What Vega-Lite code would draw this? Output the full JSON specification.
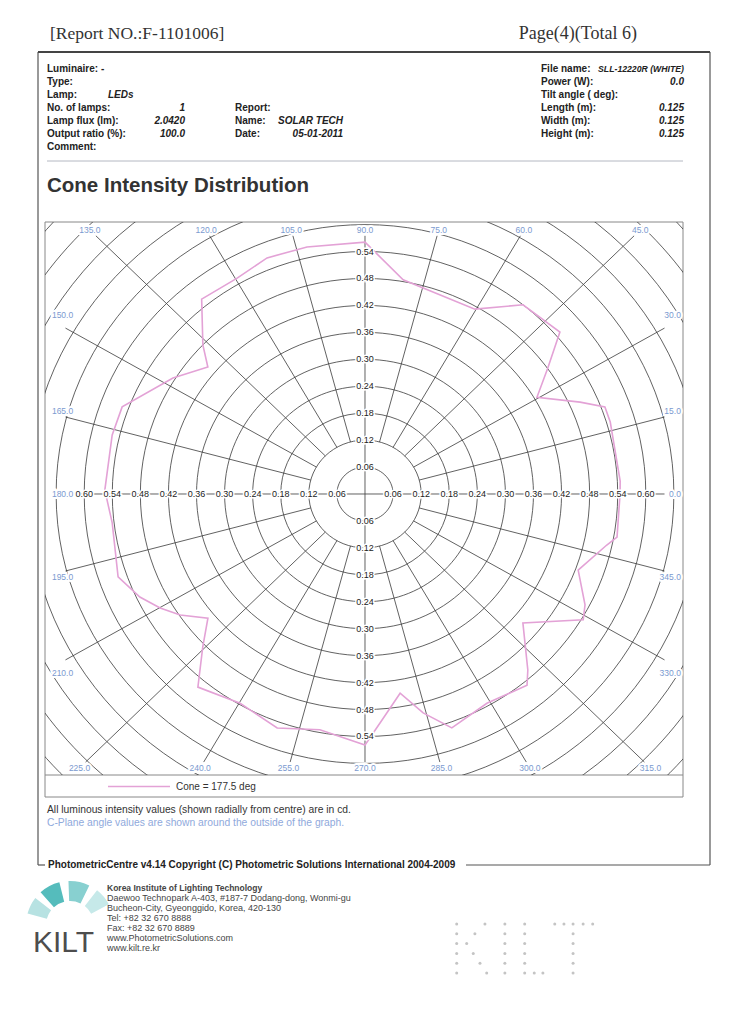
{
"width": 638, "height": 553,
"autosize": {"type": "none"},
"padding": {"left": 45, "top": 222, "right": 69, "bottom": 255},
"background": "white",
"config": {"view": {"stroke": null}, "text": {"font": "Liberation Sans"}},
"resolve": {"scale": {"x": "independent", "y": "independent"}},
"datasets": {
"rings": [{"r":0.06},{"r":0.12},{"r":0.18},{"r":0.24},{"r":0.3},{"r":0.36},{"r":0.42},{"r":0.48},{"r":0.54},{"r":0.6},{"r":0.66},{"r":0.72},{"r":0.78},{"r":0.84},{"r":0.9}],
"spokes": [{"a":0},{"a":15},{"a":30},{"a":45},{"a":60},{"a":75},{"a":90},{"a":105},{"a":120},{"a":135},{"a":150},{"a":165},{"a":180},{"a":195},{"a":210},{"a":225},{"a":240},{"a":255},{"a":270},{"a":285},{"a":300},{"a":315},{"a":330},{"a":345}],
"cone": [{"c":0,"cd":0.545},{"c":3,"cd":0.546},{"c":17,"cd":0.548},{"c":20.7,"cd":0.548},{"c":24,"cd":0.503},{"c":30.4,"cd":0.426},{"c":35.7,"cd":0.481},{"c":40.9,"cd":0.551},{"c":51.3,"cd":0.54},{"c":60.3,"cd":0.474},{"c":80.3,"cd":0.484},{"c":90,"cd":0.561},{"c":102.7,"cd":0.564},{"c":111.7,"cd":0.566},{"c":119.6,"cd":0.553},{"c":128.8,"cd":0.557},{"c":136.2,"cd":0.48},{"c":139.9,"cd":0.439},{"c":147.8,"cd":0.485},{"c":159.5,"cd":0.554},{"c":166.3,"cd":0.556},{"c":179.1,"cd":0.556},{"c":186.8,"cd":0.544},{"c":199.3,"cd":0.559},{"c":205.5,"cd":0.533},{"c":210.1,"cd":0.506},{"c":214.3,"cd":0.478},{"c":219.5,"cd":0.435},{"c":224.5,"cd":0.486},{"c":230.3,"cd":0.559},{"c":240.2,"cd":0.537},{"c":250.2,"cd":0.554},{"c":259.6,"cd":0.534},{"c":270,"cd":0.559},{"c":273.6,"cd":0.511},{"c":279.6,"cd":0.45},{"c":284.3,"cd":0.503},{"c":289.6,"cd":0.553},{"c":299.2,"cd":0.534},{"c":309.1,"cd":0.549},{"c":311.6,"cd":0.524},{"c":319.6,"cd":0.443},{"c":329,"cd":0.544},{"c":332.3,"cd":0.531},{"c":339.6,"cd":0.486},{"c":347.6,"cd":0.529},{"c":349.9,"cd":0.547},{"c":360,"cd":0.545}],
"page": [
{"b":"rep","l":1,"t":"[Report NO.:F-1101006]"},
{"b":"pg","l":1,"t":"Page(4)(Total 6)"},
{"b":"hL","l":1,"t":"Luminaire:  -"},{"b":"hL","l":2,"t":"Type:"},{"b":"hL","l":3,"t":"Lamp:"},{"b":"hL","l":4,"t":"No. of lamps:"},{"b":"hL","l":5,"t":"Lamp flux (lm):"},{"b":"hL","l":6,"t":"Output ratio (%):"},{"b":"hL","l":7,"t":"Comment:"},
{"b":"hLamp","l":3,"t":"LEDs"},
{"b":"hLV","l":4,"t":"1"},{"b":"hLV","l":5,"t":"2.0420"},{"b":"hLV","l":6,"t":"100.0"},
{"b":"hM","l":4,"t":"Report:"},{"b":"hM","l":5,"t":"Name:"},{"b":"hM","l":6,"t":"Date:"},
{"b":"hMV","l":5,"t":"SOLAR TECH"},{"b":"hMV","l":6,"t":"05-01-2011"},
{"b":"hR","l":1,"t":"File name:"},{"b":"hR","l":2,"t":"Power (W):"},{"b":"hR","l":3,"t":"Tilt angle ( deg):"},{"b":"hR","l":4,"t":"Length (m):"},{"b":"hR","l":5,"t":"Width (m):"},{"b":"hR","l":6,"t":"Height (m):"},
{"b":"hRV1","l":1,"t":"SLL-12220R (WHITE)"},{"b":"hRV","l":2,"t":"0.0"},{"b":"hRV","l":4,"t":"0.125"},{"b":"hRV","l":5,"t":"0.125"},{"b":"hRV","l":6,"t":"0.125"},
{"b":"title","l":1,"t":"Cone Intensity Distribution"},
{"b":"leg","l":1,"t":"Cone = 177.5 deg"},
{"b":"n1","l":1,"t":"All luminous intensity values (shown radially from centre) are in cd."},
{"b":"n2","l":1,"t":"C-Plane angle values are shown around the outside of the graph."},
{"b":"copy","l":1,"t":"PhotometricCentre v4.14 Copyright (C) Photometric Solutions International 2004-2009"},
{"b":"addr1","l":1,"t":"Korea Institute of Lighting Technology"},
{"b":"addr","l":2,"t":"Daewoo Technopark A-403, #187-7 Dodang-dong, Wonmi-gu"},
{"b":"addr","l":3,"t":"Bucheon-City, Gyeonggido, Korea, 420-130"},
{"b":"addr","l":4,"t":"Tel: +82 32 670 8888"},
{"b":"addr","l":5,"t":"Fax: +82 32 670 8889"},
{"b":"addr","l":6,"t":"www.PhotometricSolutions.com"},
{"b":"addr","l":7,"t":"www.kilt.re.kr"},
{"b":"logo","l":1,"t":"KILT"}
],
"dots": [{"gx":0,"gy":0},{"gx":0,"gy":1},{"gx":0,"gy":2},{"gx":0,"gy":3},{"gx":0,"gy":4},{"gx":0,"gy":5},
{"gx":2.95,"gy":0},{"gx":1.9,"gy":1},{"gx":1.04,"gy":2},{"gx":1.73,"gy":3},{"gx":2.43,"gy":4},{"gx":3.13,"gy":5},
{"gx":5.03,"gy":0},{"gx":5.03,"gy":1},{"gx":5.03,"gy":2},{"gx":5.03,"gy":3},{"gx":5.03,"gy":4},{"gx":5.03,"gy":5},
{"gx":7.1,"gy":0},{"gx":7.1,"gy":1},{"gx":7.1,"gy":2},{"gx":7.1,"gy":3},{"gx":7.1,"gy":4},{"gx":7.1,"gy":5},{"gx":8.1,"gy":5},{"gx":9.0,"gy":5},
{"gx":10.24,"gy":0},{"gx":11.2,"gy":0},{"gx":12.15,"gy":0},{"gx":13.2,"gy":0},{"gx":14.2,"gy":0},
{"gx":12.15,"gy":1},{"gx":12.15,"gy":2},{"gx":12.15,"gy":3},{"gx":12.15,"gy":4},{"gx":12.15,"gy":5}],
"fan": [{"k":1,"a1":-75,"a2":-52},{"k":2,"a1":-42,"a2":-14},{"k":3,"a1":-2,"a2":26},{"k":4,"a1":38,"a2":62}]
},
"data": {"values": [{}]},
"layer": [
{"mark": {"type":"rule","stroke":"#555","strokeWidth":1.2},
 "encoding": {"x":{"datum":38,"type":"quantitative","scale":{"domain":[0,752],"range":[-45,707],"zero":false,"nice":false},"axis":null},"y":{"datum":52,"type":"quantitative","scale":{"domain":[0,1030],"range":[-222,808],"zero":false,"nice":false},"axis":null},"y2":{"datum":865}}},
{"mark": {"type":"rule","stroke":"#555","strokeWidth":1.2},
 "encoding": {"x":{"datum":710,"type":"quantitative","scale":{"domain":[0,752],"range":[-45,707],"zero":false,"nice":false},"axis":null},"y":{"datum":52,"type":"quantitative","scale":{"domain":[0,1030],"range":[-222,808],"zero":false,"nice":false},"axis":null},"y2":{"datum":865}}},
{"mark": {"type":"rule","stroke":"#444","strokeWidth":2},
 "encoding": {"x":{"datum":38,"type":"quantitative","scale":{"domain":[0,752],"range":[-45,707],"zero":false,"nice":false},"axis":null},"x2":{"datum":710},"y":{"datum":52,"type":"quantitative","scale":{"domain":[0,1030],"range":[-222,808],"zero":false,"nice":false},"axis":null}}},
{"mark": {"type":"rule","stroke":"#555","strokeWidth":1.2},
 "encoding": {"x":{"datum":38,"type":"quantitative","scale":{"domain":[0,752],"range":[-45,707],"zero":false,"nice":false},"axis":null},"x2":{"datum":45},"y":{"datum":865,"type":"quantitative","scale":{"domain":[0,1030],"range":[-222,808],"zero":false,"nice":false},"axis":null}}},
{"mark": {"type":"rule","stroke":"#555","strokeWidth":1.2},
 "encoding": {"x":{"datum":466,"type":"quantitative","scale":{"domain":[0,752],"range":[-45,707],"zero":false,"nice":false},"axis":null},"x2":{"datum":710},"y":{"datum":865,"type":"quantitative","scale":{"domain":[0,1030],"range":[-222,808],"zero":false,"nice":false},"axis":null}}},
{"mark": {"type":"rule","stroke":"#b4b8c2","strokeWidth":1},
 "encoding": {"x":{"datum":47,"type":"quantitative","scale":{"domain":[0,752],"range":[-45,707],"zero":false,"nice":false},"axis":null},"x2":{"datum":683},"y":{"datum":161,"type":"quantitative","scale":{"domain":[0,1030],"range":[-222,808],"zero":false,"nice":false},"axis":null}}},
{"mark": {"type":"rect","fillOpacity":0,"stroke":"#888","strokeWidth":1},
 "encoding": {"x":{"datum":45,"type":"quantitative","scale":{"domain":[0,752],"range":[-45,707],"zero":false,"nice":false},"axis":null},"x2":{"datum":683},"y":{"datum":222,"type":"quantitative","scale":{"domain":[0,1030],"range":[-222,808],"zero":false,"nice":false},"axis":null},"y2":{"datum":797}}},
{"mark": {"type":"rule","stroke":"#888","strokeWidth":1},
 "encoding": {"x":{"datum":45,"type":"quantitative","scale":{"domain":[0,752],"range":[-45,707],"zero":false,"nice":false},"axis":null},"x2":{"datum":683},"y":{"datum":775,"type":"quantitative","scale":{"domain":[0,1030],"range":[-222,808],"zero":false,"nice":false},"axis":null}}},

{"data": {"name":"rings"},
 "mark": {"type":"point","shape":"M1,0C1,0.5299,0.5523,0.9594,0,0.9594C-0.5523,0.9594,-1,0.5299,-1,0C-1,-0.5299,-0.5523,-0.9594,0,-0.9594C0.5523,-0.9594,1,-0.5299,1,0Z","filled":false,"stroke":"#3a3a3a","strokeWidth":0.8,"opacity":1,"clip":true},
 "encoding": {"x":{"datum":0,"type":"quantitative","scale":{"domain":[-0.68376,0.67949],"range":[0,638],"zero":false,"nice":false},"axis":null},
  "y":{"datum":0,"type":"quantitative","scale":{"domain":[-0.62584,0.60579],"range":[553,0],"zero":false,"nice":false},"axis":null},
  "size":{"field":"r","type":"quantitative","scale":{"type":"pow","exponent":2,"domain":[0,1],"range":[0,876096]},"legend":null}}},

{"data": {"name":"spokes"},
 "transform": [
  {"calculate":"datum.a*PI/180","as":"rad"},
  {"calculate":"cos(datum.rad)","as":"co"},
  {"calculate":"sin(datum.rad)","as":"si"},
  {"calculate":"abs(datum.si)*0.66 < abs(datum.co)*0.588","as":"side"},
  {"calculate":"datum.a%90==0?0:0.12","as":"r0"},
  {"calculate":"datum.side ? 0.64/abs(datum.co) : (datum.si>0?0.575:0.597)/abs(datum.si)","as":"t"},
  {"calculate":"datum.r0*datum.co","as":"x1"},
  {"calculate":"datum.r0*datum.si","as":"y1"},
  {"calculate":"datum.t*datum.co","as":"x2"},
  {"calculate":"datum.t*datum.si","as":"y2"}],
 "mark": {"type":"rule","stroke":"#3a3a3a","strokeWidth":0.8,"clip":true},
 "encoding": {"x":{"field":"x1","type":"quantitative","scale":{"domain":[-0.68376,0.67949],"range":[0,638],"zero":false,"nice":false},"axis":null},
  "x2":{"field":"x2"},
  "y":{"field":"y1","type":"quantitative","scale":{"domain":[-0.62584,0.60579],"range":[553,0],"zero":false,"nice":false},"axis":null},
  "y2":{"field":"y2"}}},

{"data": {"name":"cone"},
 "transform": [{"calculate":"datum.cd*cos(datum.c*PI/180)","as":"x"},{"calculate":"datum.cd*sin(datum.c*PI/180)","as":"y"}],
 "mark": {"type":"line","stroke":"#e3a2d6","strokeWidth":1.6,"clip":true},
 "encoding": {"x":{"field":"x","type":"quantitative","scale":{"domain":[-0.68376,0.67949],"range":[0,638],"zero":false,"nice":false},"axis":null},
  "y":{"field":"y","type":"quantitative","scale":{"domain":[-0.62584,0.60579],"range":[553,0],"zero":false,"nice":false},"axis":null},
  "order":{"field":"c","type":"quantitative"}}},

{"data": {"name":"rings"},
 "transform": [{"filter":"datum.r < 0.61"},{"calculate":"-datum.r","as":"L"},{"calculate":"datum.r","as":"R"},{"calculate":"datum.r","as":"T"},{"calculate":"-datum.r","as":"B"},{"fold":["L","R","T","B"],"as":["k","v"]},{"filter":"!((datum.k=='T'||datum.k=='B') && datum.r > 0.57)"},{"calculate":"(datum.k=='L'||datum.k=='R')?datum.v:0","as":"px"},{"calculate":"(datum.k=='T'||datum.k=='B')?datum.v:0","as":"py"}],
 "mark": {"type":"text","fontSize":9,"fill":"white","stroke":"white","strokeWidth":3,"align":"center","baseline":"middle","clip":true},
 "encoding": {"x":{"field":"px","type":"quantitative","scale":{"domain":[-0.68376,0.67949],"range":[0,638],"zero":false,"nice":false},"axis":null},
  "y":{"field":"py","type":"quantitative","scale":{"domain":[-0.62584,0.60579],"range":[553,0],"zero":false,"nice":false},"axis":null},
  "text":{"field":"r","type":"quantitative","format":".2f"}}},
{"data": {"name":"rings"},
 "transform": [{"filter":"datum.r < 0.61"},{"calculate":"-datum.r","as":"L"},{"calculate":"datum.r","as":"R"},{"calculate":"datum.r","as":"T"},{"calculate":"-datum.r","as":"B"},{"fold":["L","R","T","B"],"as":["k","v"]},{"filter":"!((datum.k=='T'||datum.k=='B') && datum.r > 0.57)"},{"calculate":"(datum.k=='L'||datum.k=='R')?datum.v:0","as":"px"},{"calculate":"(datum.k=='T'||datum.k=='B')?datum.v:0","as":"py"}],
 "mark": {"type":"text","fontSize":9,"fill":"#222","align":"center","baseline":"middle","clip":true},
 "encoding": {"x":{"field":"px","type":"quantitative","scale":{"domain":[-0.68376,0.67949],"range":[0,638],"zero":false,"nice":false},"axis":null},
  "y":{"field":"py","type":"quantitative","scale":{"domain":[-0.62584,0.60579],"range":[553,0],"zero":false,"nice":false},"axis":null},
  "text":{"field":"r","type":"quantitative","format":".2f"}}},

{"data": {"name":"spokes"},
 "transform": [
  {"calculate":"datum.a*PI/180","as":"rad"},{"calculate":"cos(datum.rad)","as":"co"},{"calculate":"sin(datum.rad)","as":"si"},
  {"calculate":"abs(datum.si)*0.66 < abs(datum.co)*0.588","as":"side"},
  {"calculate":"datum.side ? (datum.co>0?0.675:-0.669) : (datum.si>0?0.588:0.61)*datum.co/abs(datum.si)","as":"lx"},
  {"calculate":"datum.side ? 0.69*datum.si/abs(datum.co) : (datum.si>0?0.588:-0.61)","as":"ly"},
  {"calculate":"datum.side ? (datum.co>0?'R':'L') : 'C'","as":"grp"},
  {"filter":"datum.grp=='C'"}],
 "mark": {"type":"text","fontSize":8.5,"fill":"white","stroke":"white","strokeWidth":4,"align":"center","baseline":"middle"},
 "encoding": {"x":{"field":"lx","type":"quantitative","scale":{"domain":[-0.68376,0.67949],"range":[0,638],"zero":false,"nice":false},"axis":null},
  "y":{"field":"ly","type":"quantitative","scale":{"domain":[-0.62584,0.60579],"range":[553,0],"zero":false,"nice":false},"axis":null},
  "text":{"field":"a","type":"quantitative","format":".1f"}}},
{"data": {"name":"spokes"},
 "transform": [
  {"calculate":"datum.a*PI/180","as":"rad"},{"calculate":"cos(datum.rad)","as":"co"},{"calculate":"sin(datum.rad)","as":"si"},
  {"calculate":"abs(datum.si)*0.66 < abs(datum.co)*0.588","as":"side"},
  {"calculate":"datum.side ? (datum.co>0?0.675:-0.669) : (datum.si>0?0.588:0.61)*datum.co/abs(datum.si)","as":"lx"},
  {"calculate":"datum.side ? 0.69*datum.si/abs(datum.co) : (datum.si>0?0.588:-0.61)","as":"ly"},
  {"calculate":"datum.side ? (datum.co>0?'R':'L') : 'C'","as":"grp"},
  {"filter":"datum.grp=='C'"}],
 "mark": {"type":"text","fontSize":8.5,"fill":"#7b9ad0","align":"center","baseline":"middle"},
 "encoding": {"x":{"field":"lx","type":"quantitative","scale":{"domain":[-0.68376,0.67949],"range":[0,638],"zero":false,"nice":false},"axis":null},
  "y":{"field":"ly","type":"quantitative","scale":{"domain":[-0.62584,0.60579],"range":[553,0],"zero":false,"nice":false},"axis":null},
  "text":{"field":"a","type":"quantitative","format":".1f"}}},
{"data": {"name":"spokes"},
 "transform": [
  {"calculate":"datum.a*PI/180","as":"rad"},{"calculate":"cos(datum.rad)","as":"co"},{"calculate":"sin(datum.rad)","as":"si"},
  {"calculate":"abs(datum.si)*0.66 < abs(datum.co)*0.588","as":"side"},
  {"calculate":"datum.side ? (datum.co>0?0.675:-0.669) : (datum.si>0?0.588:0.61)*datum.co/abs(datum.si)","as":"lx"},
  {"calculate":"datum.side ? 0.69*datum.si/abs(datum.co) : (datum.si>0?0.588:-0.61)","as":"ly"},
  {"calculate":"datum.side ? (datum.co>0?'R':'L') : 'C'","as":"grp"},
  {"filter":"datum.grp=='R'"}],
 "mark": {"type":"text","fontSize":8.5,"fill":"white","stroke":"white","strokeWidth":4,"align":"right","baseline":"middle"},
 "encoding": {"x":{"field":"lx","type":"quantitative","scale":{"domain":[-0.68376,0.67949],"range":[0,638],"zero":false,"nice":false},"axis":null},
  "y":{"field":"ly","type":"quantitative","scale":{"domain":[-0.62584,0.60579],"range":[553,0],"zero":false,"nice":false},"axis":null},
  "text":{"field":"a","type":"quantitative","format":".1f"}}},
{"data": {"name":"spokes"},
 "transform": [
  {"calculate":"datum.a*PI/180","as":"rad"},{"calculate":"cos(datum.rad)","as":"co"},{"calculate":"sin(datum.rad)","as":"si"},
  {"calculate":"abs(datum.si)*0.66 < abs(datum.co)*0.588","as":"side"},
  {"calculate":"datum.side ? (datum.co>0?0.675:-0.669) : (datum.si>0?0.588:0.61)*datum.co/abs(datum.si)","as":"lx"},
  {"calculate":"datum.side ? 0.69*datum.si/abs(datum.co) : (datum.si>0?0.588:-0.61)","as":"ly"},
  {"calculate":"datum.side ? (datum.co>0?'R':'L') : 'C'","as":"grp"},
  {"filter":"datum.grp=='R'"}],
 "mark": {"type":"text","fontSize":8.5,"fill":"#7b9ad0","align":"right","baseline":"middle"},
 "encoding": {"x":{"field":"lx","type":"quantitative","scale":{"domain":[-0.68376,0.67949],"range":[0,638],"zero":false,"nice":false},"axis":null},
  "y":{"field":"ly","type":"quantitative","scale":{"domain":[-0.62584,0.60579],"range":[553,0],"zero":false,"nice":false},"axis":null},
  "text":{"field":"a","type":"quantitative","format":".1f"}}},
{"data": {"name":"spokes"},
 "transform": [
  {"calculate":"datum.a*PI/180","as":"rad"},{"calculate":"cos(datum.rad)","as":"co"},{"calculate":"sin(datum.rad)","as":"si"},
  {"calculate":"abs(datum.si)*0.66 < abs(datum.co)*0.588","as":"side"},
  {"calculate":"datum.side ? (datum.co>0?0.675:-0.669) : (datum.si>0?0.588:0.61)*datum.co/abs(datum.si)","as":"lx"},
  {"calculate":"datum.side ? 0.69*datum.si/abs(datum.co) : (datum.si>0?0.588:-0.61)","as":"ly"},
  {"calculate":"datum.side ? (datum.co>0?'R':'L') : 'C'","as":"grp"},
  {"filter":"datum.grp=='L'"}],
 "mark": {"type":"text","fontSize":8.5,"fill":"white","stroke":"white","strokeWidth":4,"align":"left","baseline":"middle"},
 "encoding": {"x":{"field":"lx","type":"quantitative","scale":{"domain":[-0.68376,0.67949],"range":[0,638],"zero":false,"nice":false},"axis":null},
  "y":{"field":"ly","type":"quantitative","scale":{"domain":[-0.62584,0.60579],"range":[553,0],"zero":false,"nice":false},"axis":null},
  "text":{"field":"a","type":"quantitative","format":".1f"}}},
{"data": {"name":"spokes"},
 "transform": [
  {"calculate":"datum.a*PI/180","as":"rad"},{"calculate":"cos(datum.rad)","as":"co"},{"calculate":"sin(datum.rad)","as":"si"},
  {"calculate":"abs(datum.si)*0.66 < abs(datum.co)*0.588","as":"side"},
  {"calculate":"datum.side ? (datum.co>0?0.675:-0.669) : (datum.si>0?0.588:0.61)*datum.co/abs(datum.si)","as":"lx"},
  {"calculate":"datum.side ? 0.69*datum.si/abs(datum.co) : (datum.si>0?0.588:-0.61)","as":"ly"},
  {"calculate":"datum.side ? (datum.co>0?'R':'L') : 'C'","as":"grp"},
  {"filter":"datum.grp=='L'"}],
 "mark": {"type":"text","fontSize":8.5,"fill":"#7b9ad0","align":"left","baseline":"middle"},
 "encoding": {"x":{"field":"lx","type":"quantitative","scale":{"domain":[-0.68376,0.67949],"range":[0,638],"zero":false,"nice":false},"axis":null},
  "y":{"field":"ly","type":"quantitative","scale":{"domain":[-0.62584,0.60579],"range":[553,0],"zero":false,"nice":false},"axis":null},
  "text":{"field":"a","type":"quantitative","format":".1f"}}},

{"mark": {"type":"rule","stroke":"#e3a2d6","strokeWidth":1.6},
 "encoding": {"x":{"datum":108,"type":"quantitative","scale":{"domain":[0,752],"range":[-45,707],"zero":false,"nice":false},"axis":null},"x2":{"datum":170},"y":{"datum":786.5,"type":"quantitative","scale":{"domain":[0,1030],"range":[-222,808],"zero":false,"nice":false},"axis":null}}},

{"data": {"name":"page"}, "transform": [{"filter":"datum.b=='rep'"}],
 "mark": {"type":"text","font":"Liberation Serif","fontSize":17.5,"fill":"#333","align":"left","baseline":"middle"},
 "encoding": {"x":{"datum":50,"type":"quantitative","scale":{"domain":[0,752],"range":[-45,707],"zero":false,"nice":false},"axis":null},"y":{"datum":34,"type":"quantitative","scale":{"domain":[0,1030],"range":[-222,808],"zero":false,"nice":false},"axis":null},"text":{"field":"t","type":"nominal"}}},
{"data": {"name":"page"}, "transform": [{"filter":"datum.b=='pg'"}],
 "mark": {"type":"text","font":"Liberation Serif","fontSize":18,"fill":"#333","align":"right","baseline":"middle"},
 "encoding": {"x":{"datum":637,"type":"quantitative","scale":{"domain":[0,752],"range":[-45,707],"zero":false,"nice":false},"axis":null},"y":{"datum":34,"type":"quantitative","scale":{"domain":[0,1030],"range":[-222,808],"zero":false,"nice":false},"axis":null},"text":{"field":"t","type":"nominal"}}},

{"data": {"name":"page"}, "transform": [{"filter":"datum.b=='hL'"}],
 "mark": {"type":"text","fontSize":10,"fontWeight":"bold","fill":"#222","align":"left","baseline":"middle"},
 "encoding": {"x":{"datum":47,"type":"quantitative","scale":{"domain":[0,752],"range":[-45,707],"zero":false,"nice":false},"axis":null},"y":{"field":"l","type":"quantitative","scale":{"domain":[1,7],"range":[-153,-75],"zero":false,"nice":false},"axis":null},"text":{"field":"t","type":"nominal"}}},
{"data": {"name":"page"}, "transform": [{"filter":"datum.b=='hLamp'"}],
 "mark": {"type":"text","fontSize":10,"fontWeight":"bold","fontStyle":"italic","fill":"#222","align":"left","baseline":"middle"},
 "encoding": {"x":{"datum":108,"type":"quantitative","scale":{"domain":[0,752],"range":[-45,707],"zero":false,"nice":false},"axis":null},"y":{"field":"l","type":"quantitative","scale":{"domain":[1,7],"range":[-153,-75],"zero":false,"nice":false},"axis":null},"text":{"field":"t","type":"nominal"}}},
{"data": {"name":"page"}, "transform": [{"filter":"datum.b=='hLV'"}],
 "mark": {"type":"text","fontSize":10,"fontWeight":"bold","fontStyle":"italic","fill":"#222","align":"right","baseline":"middle"},
 "encoding": {"x":{"datum":185,"type":"quantitative","scale":{"domain":[0,752],"range":[-45,707],"zero":false,"nice":false},"axis":null},"y":{"field":"l","type":"quantitative","scale":{"domain":[1,7],"range":[-153,-75],"zero":false,"nice":false},"axis":null},"text":{"field":"t","type":"nominal"}}},
{"data": {"name":"page"}, "transform": [{"filter":"datum.b=='hM'"}],
 "mark": {"type":"text","fontSize":10,"fontWeight":"bold","fill":"#222","align":"left","baseline":"middle"},
 "encoding": {"x":{"datum":235,"type":"quantitative","scale":{"domain":[0,752],"range":[-45,707],"zero":false,"nice":false},"axis":null},"y":{"field":"l","type":"quantitative","scale":{"domain":[1,7],"range":[-153,-75],"zero":false,"nice":false},"axis":null},"text":{"field":"t","type":"nominal"}}},
{"data": {"name":"page"}, "transform": [{"filter":"datum.b=='hMV'"}],
 "mark": {"type":"text","fontSize":10,"fontWeight":"bold","fontStyle":"italic","fill":"#222","align":"right","baseline":"middle"},
 "encoding": {"x":{"datum":343,"type":"quantitative","scale":{"domain":[0,752],"range":[-45,707],"zero":false,"nice":false},"axis":null},"y":{"field":"l","type":"quantitative","scale":{"domain":[1,7],"range":[-153,-75],"zero":false,"nice":false},"axis":null},"text":{"field":"t","type":"nominal"}}},
{"data": {"name":"page"}, "transform": [{"filter":"datum.b=='hR'"}],
 "mark": {"type":"text","fontSize":10,"fontWeight":"bold","fill":"#222","align":"left","baseline":"middle"},
 "encoding": {"x":{"datum":541,"type":"quantitative","scale":{"domain":[0,752],"range":[-45,707],"zero":false,"nice":false},"axis":null},"y":{"field":"l","type":"quantitative","scale":{"domain":[1,7],"range":[-153,-75],"zero":false,"nice":false},"axis":null},"text":{"field":"t","type":"nominal"}}},
{"data": {"name":"page"}, "transform": [{"filter":"datum.b=='hRV'"}],
 "mark": {"type":"text","fontSize":10,"fontWeight":"bold","fontStyle":"italic","fill":"#222","align":"right","baseline":"middle"},
 "encoding": {"x":{"datum":684,"type":"quantitative","scale":{"domain":[0,752],"range":[-45,707],"zero":false,"nice":false},"axis":null},"y":{"field":"l","type":"quantitative","scale":{"domain":[1,7],"range":[-153,-75],"zero":false,"nice":false},"axis":null},"text":{"field":"t","type":"nominal"}}},
{"data": {"name":"page"}, "transform": [{"filter":"datum.b=='hRV1'"}],
 "mark": {"type":"text","fontSize":8.7,"fontWeight":"bold","fontStyle":"italic","fill":"#222","align":"right","baseline":"middle"},
 "encoding": {"x":{"datum":684,"type":"quantitative","scale":{"domain":[0,752],"range":[-45,707],"zero":false,"nice":false},"axis":null},"y":{"field":"l","type":"quantitative","scale":{"domain":[1,7],"range":[-153,-75],"zero":false,"nice":false},"axis":null},"text":{"field":"t","type":"nominal"}}},

{"data": {"name":"page"}, "transform": [{"filter":"datum.b=='title'"}],
 "mark": {"type":"text","fontSize":20.5,"fontWeight":"bold","fill":"#333","align":"left","baseline":"middle"},
 "encoding": {"x":{"datum":47,"type":"quantitative","scale":{"domain":[0,752],"range":[-45,707],"zero":false,"nice":false},"axis":null},"y":{"datum":186,"type":"quantitative","scale":{"domain":[0,1030],"range":[-222,808],"zero":false,"nice":false},"axis":null},"text":{"field":"t","type":"nominal"}}},
{"data": {"name":"page"}, "transform": [{"filter":"datum.b=='leg'"}],
 "mark": {"type":"text","fontSize":10,"fill":"#333","align":"left","baseline":"middle"},
 "encoding": {"x":{"datum":176,"type":"quantitative","scale":{"domain":[0,752],"range":[-45,707],"zero":false,"nice":false},"axis":null},"y":{"datum":786.5,"type":"quantitative","scale":{"domain":[0,1030],"range":[-222,808],"zero":false,"nice":false},"axis":null},"text":{"field":"t","type":"nominal"}}},
{"data": {"name":"page"}, "transform": [{"filter":"datum.b=='n1'"}],
 "mark": {"type":"text","fontSize":10.3,"fill":"#333","align":"left","baseline":"middle"},
 "encoding": {"x":{"datum":47,"type":"quantitative","scale":{"domain":[0,752],"range":[-45,707],"zero":false,"nice":false},"axis":null},"y":{"datum":810,"type":"quantitative","scale":{"domain":[0,1030],"range":[-222,808],"zero":false,"nice":false},"axis":null},"text":{"field":"t","type":"nominal"}}},
{"data": {"name":"page"}, "transform": [{"filter":"datum.b=='n2'"}],
 "mark": {"type":"text","fontSize":10.3,"fill":"#8fa9dc","align":"left","baseline":"middle"},
 "encoding": {"x":{"datum":47,"type":"quantitative","scale":{"domain":[0,752],"range":[-45,707],"zero":false,"nice":false},"axis":null},"y":{"datum":823,"type":"quantitative","scale":{"domain":[0,1030],"range":[-222,808],"zero":false,"nice":false},"axis":null},"text":{"field":"t","type":"nominal"}}},
{"data": {"name":"page"}, "transform": [{"filter":"datum.b=='copy'"}],
 "mark": {"type":"text","fontSize":10,"fontWeight":"bold","fill":"#222","align":"left","baseline":"middle"},
 "encoding": {"x":{"datum":48,"type":"quantitative","scale":{"domain":[0,752],"range":[-45,707],"zero":false,"nice":false},"axis":null},"y":{"datum":865,"type":"quantitative","scale":{"domain":[0,1030],"range":[-222,808],"zero":false,"nice":false},"axis":null},"text":{"field":"t","type":"nominal"}}},
{"data": {"name":"page"}, "transform": [{"filter":"datum.b=='addr1'"}],
 "mark": {"type":"text","fontSize":8.5,"fontWeight":"bold","fill":"#444","align":"left","baseline":"middle"},
 "encoding": {"x":{"datum":107,"type":"quantitative","scale":{"domain":[0,752],"range":[-45,707],"zero":false,"nice":false},"axis":null},"y":{"field":"l","type":"quantitative","scale":{"domain":[1,7],"range":[666,726],"zero":false,"nice":false},"axis":null},"text":{"field":"t","type":"nominal"}}},
{"data": {"name":"page"}, "transform": [{"filter":"datum.b=='addr'"}],
 "mark": {"type":"text","fontSize":9,"fill":"#444","align":"left","baseline":"middle"},
 "encoding": {"x":{"datum":107,"type":"quantitative","scale":{"domain":[0,752],"range":[-45,707],"zero":false,"nice":false},"axis":null},"y":{"field":"l","type":"quantitative","scale":{"domain":[1,7],"range":[666,726],"zero":false,"nice":false},"axis":null},"text":{"field":"t","type":"nominal"}}},
{"data": {"name":"page"}, "transform": [{"filter":"datum.b=='logo'"}],
 "mark": {"type":"text","fontSize":30,"fill":"#4d4d4d","align":"left","baseline":"middle"},
 "encoding": {"x":{"datum":33,"type":"quantitative","scale":{"domain":[0,752],"range":[-45,707],"zero":false,"nice":false},"axis":null},"y":{"datum":943,"type":"quantitative","scale":{"domain":[0,1030],"range":[-222,808],"zero":false,"nice":false},"axis":null},"text":{"field":"t","type":"nominal"}}},
{"data": {"name":"fan"},
 "mark": {"type":"arc","radius":44,"radius2":24},
 "encoding": {"x":{"datum":70,"type":"quantitative","scale":{"domain":[0,752],"range":[-45,707],"zero":false,"nice":false},"axis":null},"y":{"datum":925,"type":"quantitative","scale":{"domain":[0,1030],"range":[-222,808],"zero":false,"nice":false},"axis":null},
  "theta":{"field":"a1","type":"quantitative","stack":null,"scale":{"domain":[-180,180],"range":[-3.14159,3.14159]}},"theta2":{"field":"a2"},
  "color":{"field":"k","type":"nominal","scale":{"domain":[1,2,3,4],"range":["#b7e2e2","#55bcbc","#88d0d0","#c6e9e9"]},"legend":null}}},
{"data": {"name":"dots"},
 "mark": {"type":"point","filled":true,"size":9,"color":"#c4c4c4","opacity":1},
 "encoding": {"x":{"field":"gx","type":"quantitative","scale":{"domain":[0,14.2],"range":[411.7,547.7],"zero":false,"nice":false},"axis":null},"y":{"field":"gy","type":"quantitative","scale":{"domain":[0,5],"range":[702,751],"zero":false,"nice":false},"axis":null}}}
]
}
